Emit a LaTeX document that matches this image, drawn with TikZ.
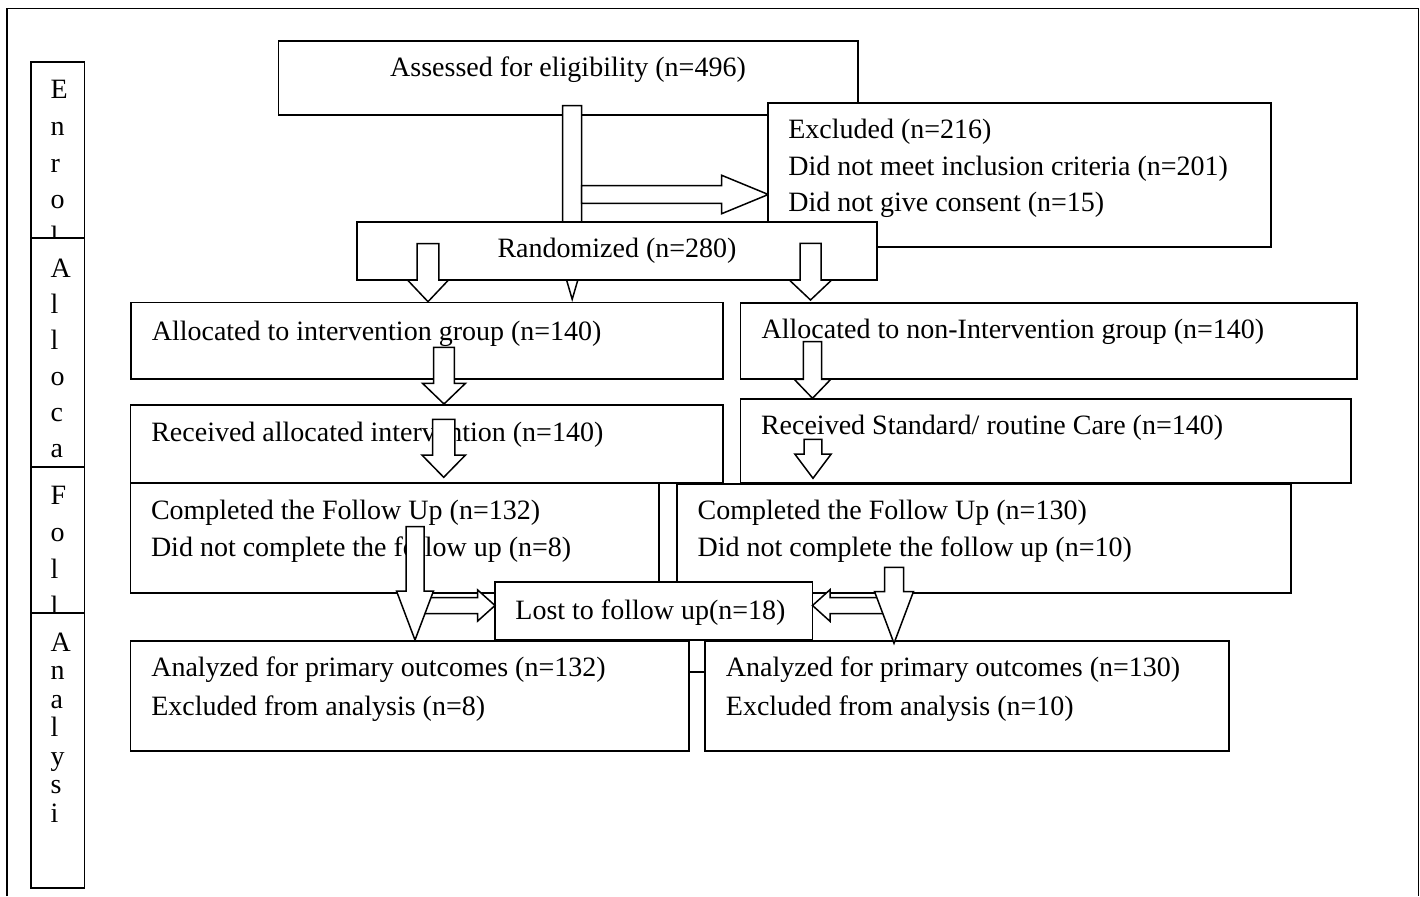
\documentclass[tikz,border=0pt]{standalone}
\usepackage{fontspec}
\setmainfont{Liberation Serif}
\tikzset{
  box/.style={draw=black, line width=1.8pt, fill=white, rectangle, inner sep=0pt, outer sep=0pt, anchor=north west},
  cellbox/.style={draw=black, line width=1.8pt, rectangle, inner sep=0pt, outer sep=0pt, anchor=north west},
  txt/.style={inner sep=0pt, outer sep=0pt, anchor=base west, font=\fontsize{28}{37}\selectfont},
  ctxt/.style={txt, anchor=base},
  blk/.style={draw=black, line width=1.5pt, fill=white, line join=miter},
  frameline/.style={draw=black, line width=1.8pt},
}
% down block arrow: cx, top, base, tip, shaft half width, head half width
\newcommand{\blockdown}[6]{%
  \draw[blk] (#1-#5,#2) -- (#1+#5,#2) -- (#1+#5,#3) -- (#1+#6,#3) -- (#1,#4)
    -- (#1-#6,#3) -- (#1-#5,#3) -- cycle;}
% horizontal block arrow: tail x, base x, tip x, centre y, shaft half width, head half width
\newcommand{\blockhor}[6]{%
  \draw[blk] (#1,#4-#5) -- (#2,#4-#5) -- (#2,#4-#6) -- (#3,#4) -- (#2,#4+#6)
    -- (#2,#4+#5) -- (#1,#4+#5) -- cycle;}
\begin{document}
\begin{tikzpicture}[x=1pt,y=-1pt]
\useasboundingbox (0,0) rectangle (1420,896);
\fill[white] (0,0) rectangle (1420,896);
% outer frame
\draw[frameline] (7.3,896) -- (7.3,8.5) -- (1418.5,8.5) -- (1418.5,896);

% left column letters (clipped per cell)
\begin{scope}
  \clip (31,62) rectangle (84.5,238.3);
  \foreach \ch [count=\i from 0] in {E,n,r,o,l}
    \node[txt] (le\i) at (50.5,99+36.5*\i) {\ch};
\end{scope}
\begin{scope}
  \clip (31,238.3) rectangle (84.5,466.7);
  \foreach \ch [count=\i from 0] in {A,l,l,o,c,a}
    \node[txt] (la\i) at (50.5,277.6+36*\i) {\ch};
\end{scope}
\begin{scope}
  \clip (31,466.7) rectangle (84.5,613);
  \foreach \ch [count=\i from 0] in {F,o,l,l}
    \node[txt] (lf\i) at (50.5,504.3+37.2*\i) {\ch};
\end{scope}
\begin{scope}
  \clip (31,613) rectangle (84.5,888.3);
  \foreach \ch [count=\i from 0] in {A,n,a,l,y,s,i}
    \node[txt] (ln\i) at (50.5,651+28.5*\i) {\ch};
\end{scope}
\node[cellbox, minimum width=53.5pt, minimum height=176.3pt] (colE) at (31,62) {};
\node[cellbox, minimum width=53.5pt, minimum height=228.4pt] (colA) at (31,238.3) {};
\node[cellbox, minimum width=53.5pt, minimum height=146.3pt] (colF) at (31,466.7) {};
\node[cellbox, minimum width=53.5pt, minimum height=275.3pt] (colN) at (31,613) {};

% assessed
\node[box, minimum width=579.5pt, minimum height=74.3pt] (assess) at (278.5,40.7) {};
\node[ctxt] (assessT) at (568,77) {Assessed for eligibility (n=496)};
% bar arrow from assessed down
\blockdown{572.2}{105.6}{265}{299.3}{9.5}{10}
% arrow to excluded
\blockhor{581.7}{721.7}{768.3}{194.5}{8.8}{19.2}
% excluded
\node[box, minimum width=502.3pt, minimum height=144.2pt] (excl) at (768.3,102.8) {};
\node[txt] (exclA) at (788.3,139) {Excluded (n=216)};
\node[txt] (exclB) at (788.3,175.3) {Did not meet inclusion criteria (n=201)};
\node[txt] (exclC) at (788.3,211.6) {Did not give consent (n=15)};
% randomized
\node[box, minimum width=520pt, minimum height=58pt] (rand) at (356.7,221.7) {};
\node[ctxt] (randT) at (617,257) {Randomized (n=280)};
\blockdown{428}{243.7}{280}{301.7}{10.8}{20.5}
\blockdown{810.5}{243.3}{280}{300}{10.5}{21.2}

% allocated
\node[box, minimum width=591.7pt, minimum height=76.8pt] (allocL) at (131,302.5) {};
\node[txt] (allocLT) at (151.8,340.5) {Allocated to intervention group (n=140)};
\node[box, minimum width=616.3pt, minimum height=76.4pt] (allocR) at (740.4,302.7) {};
\node[txt] (allocRT) at (761.7,338) {Allocated to non-Intervention group (n=140)};
\blockdown{812.5}{341.7}{379.3}{398.3}{9.2}{18.3}

% received
\node[box, minimum width=592.3pt, minimum height=77.7pt] (recvL) at (130.5,405) {};
\node[txt] (recvLT) at (151.3,441) {Received allocated intervention (n=140)};
\node[box, minimum width=610.6pt, minimum height=83.6pt] (recvR) at (740.4,399.2) {};
\node[txt] (recvRT) at (761,434.7) {Received Standard/ routine Care (n=140)};
\blockdown{444}{347.3}{383.3}{404}{10.4}{21.5}
\blockdown{443.7}{419.3}{455}{477.3}{11.1}{21.8}
\blockdown{813}{439.3}{454}{478.3}{8.9}{18.2}

% completed
\node[box, minimum width=528.5pt, minimum height=110pt] (compL) at (130.5,483.3) {};
\node[txt] (compLa) at (151,519) {Completed the Follow Up (n=132)};
\node[txt] (compLb) at (151,556.5) {Did not complete the follow up (n=8)};
\node[box, minimum width=613.7pt, minimum height=109.3pt] (compR) at (677,484) {};
\node[txt] (compRa) at (697.7,519) {Completed the Follow Up (n=130)};
\node[txt] (compRb) at (697.7,556.5) {Did not complete the follow up (n=10)};

% analyzed
\node[box, minimum width=558.5pt, minimum height=109.7pt] (anaL) at (130.5,641) {};
\node[txt] (anaLa) at (151.3,676.5) {Analyzed for primary outcomes (n=132)};
\node[txt] (anaLb) at (151.3,715) {Excluded from analysis (n=8)};
\node[box, minimum width=523.9pt, minimum height=110pt] (anaR) at (704.8,641) {};
\node[txt] (anaRa) at (725.9,676.5) {Analyzed for primary outcomes (n=130)};
\node[txt] (anaRb) at (725.9,715) {Excluded from analysis (n=10)};
\coordinate (cl) at (0,671.7);
\draw[frameline] (anaL.east |- cl) -- (anaR.west |- cl);

% lost to follow up
\node[box, minimum width=317.5pt, minimum height=58pt] (lost) at (495,582) {};
\node[txt] (lostT) at (515.4,619.5) {Lost to follow up(n=18)};
\blockhor{420}{477.6}{495}{605.5}{8}{15.6}
\blockhor{890}{830}{812.5}{605.5}{8}{15.8}
\blockdown{415}{526.7}{591}{640}{9}{18.5}
\blockdown{894}{567.3}{591.5}{643.3}{9.5}{19.5}
\end{tikzpicture}
\end{document}
